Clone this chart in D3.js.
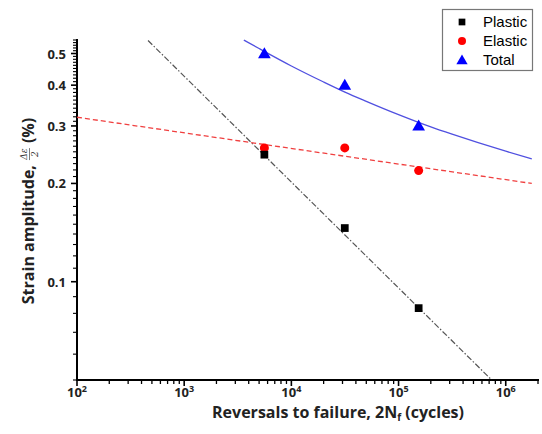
<!DOCTYPE html>
<meta charset="utf-8">
<style>
body {
  margin: 0;
  background: #fff;
}
svg {
  display: block;
}
.tick-label {
  font: bold 13px "Open Sans", sans-serif;
  fill: #222;
}
.axis-title {
  font: bold 16px "Open Sans", sans-serif;
  fill: #222;
}
.legend text {
  font: 15px "Liberation Sans", Arial, sans-serif;
  fill: #000;
}
</style>
<body>
<script src="https://d3js.org/d3.v7.min.js"></script>
<script>

// Data (x = reversals 2Nf, y = strain amplitude %)
var cycles = [5600, 31500, 154000];
var plasticStrain = [0.245, 0.146, 0.083];
var elasticStrain = [0.257, 0.257, 0.219];
var totalStrain = [0.5, 0.4, 0.3];

// fitted lines
var plasticFit = [[460, 0.548], [740000, 0.05]];
var elasticFit = [[100, 0.319], [1750000, 0.2]];
var totalFit = [[3600, 0.55], [5000, 0.518], [10000, 0.458], [20000, 0.409], [31600, 0.381],
                [50000, 0.357], [100000, 0.325], [200000, 0.298], [316000, 0.283],
                [1000000, 0.251], [1750000, 0.238]];

var xMajor = [1e2, 1e3, 1e4, 1e5, 1e6];
var xExp = ["2", "3", "4", "5", "6"];
var yMajor = [0.1, 0.2, 0.3, 0.4, 0.5];
var yLabels = ["0.1", "0.2", "0.3", "0.4", "0.5"];
var legendNames = ["Plastic", "Elastic", "Total"];

var width = 542, height = 434;

var svg = d3.select("body").append("svg")
  .attr("width", width)
  .attr("height", height);

// Scales
var x = d3.scaleLog().domain([100, 2e6]).range([77, 538]);
var y = d3.scaleLog().domain([0.05, 0.55]).range([380, 40]);

// minor ticks
var xMinor = [];
for (var e = 2; e <= 6; e++) {
  for (var m = 2; m <= 9; m++) {
    var v = m * Math.pow(10, e);
    if (v <= 2e6) xMinor.push(v);
  }
}
var yMinor = [];
for (var k = 5; k <= 55; k++) {
  if (k % 10 != 0) yMinor.push(k / 100);
}

// x axis
svg.append("line")
  .attr("x1", 77).attr("x2", 539)
  .attr("y1", 380).attr("y2", 380)
  .attr("stroke", "#000").attr("stroke-width", 2);

svg.selectAll(".xminor").data(xMinor).enter().append("line")
  .attr("x1", function(d) { return x(d); })
  .attr("x2", function(d) { return x(d); })
  .attr("y1", 380).attr("y2", 384)
  .attr("stroke", "#000").attr("stroke-width", 1.3);

svg.selectAll(".xmajor").data(xMajor).enter().append("line")
  .attr("x1", function(d) { return x(d); })
  .attr("x2", function(d) { return x(d); })
  .attr("y1", 380).attr("y2", 386)
  .attr("stroke", "#000").attr("stroke-width", 1.6);

var xl = svg.selectAll(".xlab").data(xMajor).enter().append("text")
  .attr("class", "tick-label")
  .attr("x", function(d) { return x(d); })
  .attr("y", 397)
  .attr("text-anchor", "middle");
xl.append("tspan").text("10");
xl.append("tspan")
  .attr("dy", -5)
  .style("font-size", "9px")
  .text(function(d, i) { return xExp[i]; });

// y axis
svg.append("line")
  .attr("x1", 77).attr("x2", 77)
  .attr("y1", 39).attr("y2", 381)
  .attr("stroke", "#000").attr("stroke-width", 2);

svg.selectAll(".yminor").data(yMinor).enter().append("line")
  .attr("x1", 73).attr("x2", 77)
  .attr("y1", function(d) { return y(d); })
  .attr("y2", function(d) { return y(d); })
  .attr("stroke", "#000").attr("stroke-width", 1.1);

svg.selectAll(".ymajor").data(yMajor).enter().append("line")
  .attr("x1", 71).attr("x2", 77)
  .attr("y1", function(d) { return y(d); })
  .attr("y2", function(d) { return y(d); })
  .attr("stroke", "#000").attr("stroke-width", 1.6);

svg.selectAll(".ylab").data(yMajor).enter().append("text")
  .attr("class", "tick-label")
  .attr("x", 66)
  .attr("y", function(d) { return y(d) + 5; })
  .attr("text-anchor", "end")
  .text(function(d, i) { return yLabels[i]; });

// axis titles
var xt = svg.append("text")
  .attr("class", "axis-title")
  .attr("x", 338).attr("y", 418)
  .attr("text-anchor", "middle");
xt.append("tspan").text("Reversals to failure, 2N");
xt.append("tspan").attr("dy", 3).style("font-size", "10px").text("f");
xt.append("tspan").attr("dy", -3).text(" (cycles)");

// y title with the small fraction built by hand
var yt = svg.append("g").attr("transform", "translate(28,211) rotate(-90)");
var t1 = yt.append("text").attr("class", "axis-title").attr("y", 6).text("Strain amplitude,");
var t3 = yt.append("text").attr("class", "axis-title").attr("y", 6).text("(%)");
var w1 = t1.node().getComputedTextLength();
var w3 = t3.node().getComputedTextLength();
var gap = 5;
var fw = 12;
var total = w1 + gap + fw + gap + w3;
var x0 = -total / 2;
var fx = x0 + w1 + gap;
t1.attr("x", x0);
t3.attr("x", fx + fw + gap);
yt.append("text")
  .attr("x", fx + fw / 2).attr("y", -1)
  .attr("text-anchor", "middle")
  .style("font", "italic 9px 'DejaVu Serif', serif").attr("fill", "#333")
  .text("Δε");
yt.append("line")
  .attr("x1", fx).attr("x2", fx + fw)
  .attr("y1", 1.5).attr("y2", 1.5)
  .attr("stroke", "#444").attr("stroke-width", 0.7);
yt.append("text")
  .attr("x", fx + fw / 2).attr("y", 10)
  .attr("text-anchor", "middle")
  .style("font", "italic 9px 'DejaVu Serif', serif").attr("fill", "#333")
  .text("2");

// fit lines
var line = d3.line()
  .x(function(d) { return x(d[0]); })
  .y(function(d) { return y(d[1]); });

svg.append("path")
  .attr("d", line(plasticFit))
  .attr("fill", "none")
  .attr("stroke", "#555")
  .attr("stroke-width", 1.2)
  .attr("stroke-dasharray", "6,2,1.5,2");

svg.append("path")
  .attr("d", line(elasticFit))
  .attr("fill", "none")
  .attr("stroke", "#f04040")
  .attr("stroke-width", 1.3)
  .attr("stroke-dasharray", "5,3");

svg.append("path")
  .attr("d", line.curve(d3.curveMonotoneX)(totalFit))
  .attr("fill", "none")
  .attr("stroke", "#5050e0")
  .attr("stroke-width", 1.3);

// markers
var sq = d3.symbol().type(d3.symbolSquare).size(60);
var tri = d3.symbol().type(d3.symbolTriangle).size(70);

svg.selectAll(".el").data(cycles).enter().append("circle")
  .attr("cx", function(d) { return x(d); })
  .attr("cy", function(d, i) { return y(elasticStrain[i]); })
  .attr("r", 4.5)
  .attr("fill", "#f00");

svg.selectAll(".pl").data(cycles).enter().append("path")
  .attr("d", sq)
  .attr("transform", function(d, i) { return "translate(" + x(d) + "," + y(plasticStrain[i]) + ")"; })
  .attr("fill", "#000");

svg.selectAll(".to").data(cycles).enter().append("path")
  .attr("d", tri)
  .attr("transform", function(d, i) { return "translate(" + x(d) + "," + (y(totalStrain[i]) + 1) + ")"; })
  .attr("fill", "#00f");

// legend
var legend = svg.append("g").attr("class", "legend");
legend.append("rect")
  .attr("x", 442.5).attr("y", 9.5)
  .attr("width", 90).attr("height", 61)
  .attr("fill", "#fff")
  .attr("stroke", "#777")
  .attr("stroke-width", 1.2);

var ly = [22, 41, 60];
legend.append("path").attr("d", d3.symbol().type(d3.symbolSquare).size(45))
  .attr("transform", "translate(462," + ly[0] + ")").attr("fill", "#000");
legend.append("circle").attr("cx", 462).attr("cy", ly[1]).attr("r", 4).attr("fill", "#f00");
legend.append("path").attr("d", d3.symbol().type(d3.symbolTriangle).size(55))
  .attr("transform", "translate(462," + (ly[2] + 1) + ")").attr("fill", "#00f");

legend.selectAll("text").data(legendNames).enter().append("text")
  .attr("x", 483)
  .attr("y", function(d, i) { return ly[i] + 5; })
  .text(function(d) { return d; });

</script>
</body>
